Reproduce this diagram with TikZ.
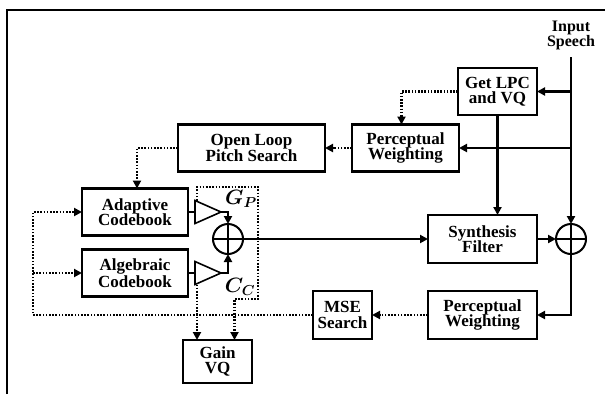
\documentclass[tikz,border=0pt]{standalone}
\usepackage{fontspec}
\setmainfont{Liberation Serif}
\usetikzlibrary{arrows.meta,shapes.geometric}

\begin{document}
\begin{tikzpicture}[x=1pt, y=-1pt,
    every node/.style={inner sep=0pt, outer sep=0pt},
    blk/.style  ={draw=black, line width=2.2pt, align=center, minimum height=47pt,
                  font=\bfseries\fontsize{17}{15.5}\selectfont},
    amp/.style  ={isosceles triangle, isosceles triangle stretches, draw=black,
                  line width=1.6pt, minimum width=23pt, minimum height=26pt, anchor=west},
    adder/.style={circle, draw=black, line width=2pt, minimum size=30pt,
                  path picture={\draw[line width=2pt]
                    (path picture bounding box.north) -- (path picture bounding box.south)
                    (path picture bounding box.west) -- (path picture bounding box.east);}},
    lbl/.style  ={font=\bfseries\fontsize{16}{15}\selectfont, align=center},
    gl/.style   ={font=\boldmath\fontsize{20}{20}\selectfont},
    ar/.style   ={-{Triangle[length=8pt,width=8pt]}, line width=2.2pt},
    ln/.style   ={line width=2.2pt},
    dt/.style   ={line width=2.2pt, dash pattern=on 1.6pt off 1.6pt},
    dta/.style  ={dt, -{Triangle[length=8pt,width=8pt]}},
    frame/.style={line width=1.2pt}]

\useasboundingbox (0,0) rectangle (607,394);
\draw[frame] (7,394) -- (7,10) -- (605,10);

% ── analysis ────────────────────────────────────────────────────────────
\node[lbl] (insp) at (571,35) {Input\\Speech};
\coordinate (intop) at (571,57);
\node[blk, minimum width=79pt]  (lpc)  at (497.5,91.5) {Get LPC\\and VQ};
\node[blk, minimum width=107pt] (pw1)  at (405.5,148) {Perceptual\\Weighting};
\node[blk, minimum width=147pt] (olps) at (251.5,148) {Open Loop\\Pitch Search};

% ── excitation ──────────────────────────────────────────────────────────
\node[blk, minimum width=106pt] (adapt) at (135,212) {Adaptive\\Codebook};
\node[blk, minimum width=106pt] (alg)   at (135,273) {Algebraic\\Codebook};
\node[amp] (tri1) at (195,212) {};
\node[amp] (tri2) at (195,273) {};
\node[adder] (sum1) at (228,239) {};
\node[gl] (lgp) at (241,199) {$G_P$};
\node[gl] (lcc) at (240,287) {$C_C$};
\node[blk, minimum width=69pt, minimum height=43pt] (gvq) at (217.5,361.5) {Gain\\VQ};

% ── synthesis and error ─────────────────────────────────────────────────
\node[blk, minimum width=109pt, minimum height=48pt] (synth) at (482.5,239) {Synthesis\\Filter};
\node[adder] (sum2) at (571,239) {};
\node[blk, minimum width=109pt, minimum height=48pt] (pw2) at (482.5,315) {Perceptual\\Weighting};
\node[blk, minimum width=59pt, minimum height=48pt]  (mse) at (342.5,315) {MSE\\Search};

\coordinate (fb)   at (33,315);
\coordinate (gtop) at (258,187);
\coordinate (gbot) at (258,299);

% ── connections ─────────────────────────────────────────────────────────
\draw[ar] (intop) -- (sum2.north);
\draw[ar] (intop |- lpc.east) -- (lpc.east);
\draw[ar] (intop |- pw1.east) -- (pw1.east);
\draw[ar] (lpc.south) -- (lpc.south |- synth.north);
\draw[dta] (lpc.west) -| ([xshift=-4pt]pw1.north);
\draw[dta] (pw1.west) -- (olps.east);
\draw[dta] (olps.west) -| ([xshift=2pt]adapt.north);
\draw[ln] (adapt.east) -- (tri1.west);
\draw[ln] (alg.east) -- (tri2.west);
\draw[ar] (tri1.east) -| (sum1.north);
\draw[ar] (tri2.east) -| (sum1.south);
\draw[ar] (sum1.east) -- (synth.west);
\draw[ar] (synth.east) -- (sum2.west);
\draw[ar] (sum2.south) |- (pw2.east);
\draw[dta] (pw2.west) -- (mse.east);
\draw[dta] (mse.west) -- (fb) |- (adapt.west);
\draw[dta] (fb |- alg.west) -- (alg.west);
% gain control of both amplifiers
\draw[dta] ([xshift=2pt]tri1.left corner) |- (gtop) -- (gbot) -| ([xshift=17pt]gvq.north);
\draw[dta] ([xshift=2pt]tri2.right corner) -- ([xshift=2pt]tri2.right corner |- gvq.north);
\end{tikzpicture}
\end{document}
